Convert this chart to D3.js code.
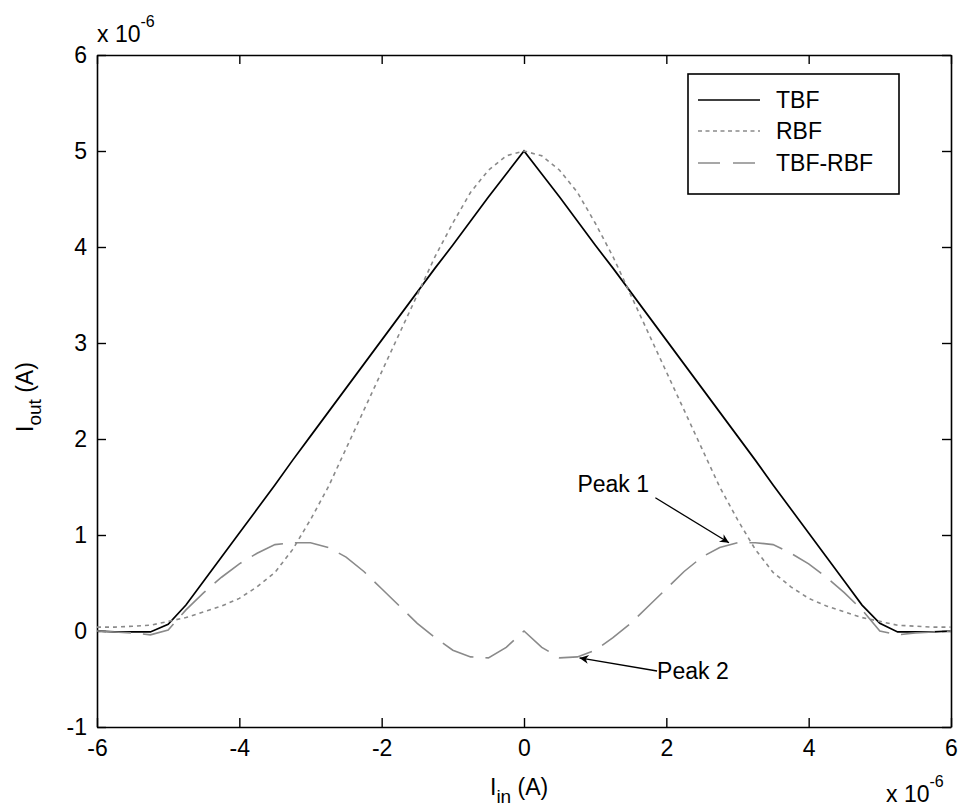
<!DOCTYPE html>
<html>
<head>
<meta charset="utf-8">
<script src="https://cdn.jsdelivr.net/npm/d3@7"></script>
<style>
  html, body { margin: 0; padding: 0; background: #fff; }
  svg text { font-family: "Liberation Sans", Arial, sans-serif; fill: #000; }
</style>
</head>
<body>
<svg id="chart" width="959" height="808"></svg>
<script>
// Input current (units of 1e-6 A)
const iin = [-6, -5.75, -5.5, -5.25, -5, -4.75, -4.5, -4.25, -4, -3.75, -3.5, -3.25, -3,
  -2.75, -2.5, -2.25, -2, -1.75, -1.5, -1.25, -1, -0.75, -0.5, -0.25, 0,
  0.25, 0.5, 0.75, 1, 1.25, 1.5, 1.75, 2, 2.25, 2.5, 2.75, 3, 3.25, 3.5, 3.75,
  4, 4.25, 4.5, 4.75, 5, 5.25, 5.5, 5.75, 6];

// Triangular basis function output
const tbf = [0, -0.01, -0.01, -0.01, 0.07, 0.27, 0.52, 0.77, 1.02, 1.27, 1.52, 1.78, 2.03,
  2.28, 2.53, 2.78, 3.03, 3.28, 3.53, 3.78, 4.02, 4.27, 4.52, 4.76, 5.0,
  4.76, 4.52, 4.27, 4.02, 3.78, 3.53, 3.28, 3.03, 2.78, 2.53, 2.28, 2.03, 1.78, 1.52, 1.27,
  1.02, 0.77, 0.52, 0.27, 0.08, -0.01, -0.01, -0.01, 0];

// Radial basis function output
const rbf = [0.04, 0.04, 0.05, 0.06, 0.10, 0.14, 0.20, 0.26, 0.34, 0.46, 0.61, 0.85, 1.16,
  1.50, 1.90, 2.30, 2.70, 3.10, 3.50, 3.90, 4.25, 4.57, 4.80, 4.95, 5.0,
  4.95, 4.80, 4.57, 4.25, 3.90, 3.50, 3.10, 2.70, 2.30, 1.90, 1.50, 1.16, 0.85, 0.61, 0.46,
  0.34, 0.26, 0.20, 0.14, 0.10, 0.06, 0.05, 0.04, 0.04];

// Difference TBF - RBF
const diff = [0, -0.01, -0.02, -0.04, 0.01, 0.22, 0.40, 0.56, 0.70, 0.81, 0.90, 0.92, 0.92,
  0.87, 0.77, 0.62, 0.44, 0.26, 0.08, -0.07, -0.20, -0.27, -0.28, -0.17, 0.0,
  -0.17, -0.28, -0.27, -0.20, -0.07, 0.08, 0.26, 0.44, 0.62, 0.77, 0.87, 0.92, 0.92, 0.90, 0.81,
  0.70, 0.56, 0.40, 0.22, 0.0, -0.04, -0.02, -0.01, 0];

const seriesNames = ["TBF", "RBF", "TBF-RBF"];
const xTicks = [-6, -4, -2, 0, 2, 4, 6];
const yTicks = [-1, 0, 1, 2, 3, 4, 5, 6];

// Annotations: label, arrow tip (data units), label anchor (data units)
const notes = [
  { label: "Peak 1", tip: [2.88, 0.92], at: [0.75, 1.45] },
  { label: "Peak 2", tip: [0.78, -0.28], at: [1.87, -0.5] }
];

const margin = { left: 97, top: 55, right: 8, bottom: 81 };
const W = 959, H = 808;
const pw = W - margin.left - margin.right;   // 854
const ph = H - margin.top - margin.bottom;   // 672

const svg = d3.select("#chart");
const defs = svg.append("defs");
defs.append("clipPath").attr("id", "plotclip")
  .append("rect").attr("width", pw).attr("height", ph);
defs.append("marker").attr("id", "arrowhead")
  .attr("viewBox", "0 0 10 10").attr("refX", 10).attr("refY", 5)
  .attr("markerWidth", 22).attr("markerHeight", 9).attr("markerUnits", "userSpaceOnUse")
  .attr("orient", "auto")
  .append("path").attr("d", "M0,0 L10,5 L0,10 L3,5 Z").attr("fill", "#000");

const g = svg.append("g").attr("transform", `translate(${margin.left},${margin.top})`);

const x = d3.scaleLinear().domain([-6, 6]).range([0, pw]);
const y = d3.scaleLinear().domain([-1, 6]).range([ph, 0]);

const fontSize = 23;
const subSize = 19;
const plainNum = d => String(d);

// Axes with inward ticks on all four sides
const tickLen = 9;
const axB = g.append("g").attr("transform", `translate(0,${ph})`)
  .call(d3.axisBottom(x).tickValues(xTicks).tickFormat(plainNum)
    .tickSizeInner(-tickLen).tickSizeOuter(0).tickPadding(13));
const axT = g.append("g")
  .call(d3.axisTop(x).tickValues(xTicks).tickSizeInner(-tickLen).tickSizeOuter(0).tickFormat(""));
const axL = g.append("g")
  .call(d3.axisLeft(y).tickValues(yTicks).tickFormat(plainNum)
    .tickSizeInner(-tickLen).tickSizeOuter(0).tickPadding(10));
const axR = g.append("g").attr("transform", `translate(${pw},0)`)
  .call(d3.axisRight(y).tickValues(yTicks).tickSizeInner(-tickLen).tickSizeOuter(0).tickFormat(""));

[axB, axT, axL, axR].forEach(a => {
  a.select(".domain").attr("stroke", "#000").attr("stroke-width", 1.6);
  a.selectAll(".tick line").attr("stroke", "#000").attr("stroke-width", 1.4);
  a.selectAll(".tick text").attr("font-size", fontSize)
    .attr("font-family", "Liberation Sans, Arial, sans-serif").attr("fill", "#000");
});
axB.selectAll(".tick text").attr("dy", "0.71em");

// Curves
const lineGen = vals => d3.line()
  .x((d, i) => x(iin[i]))
  .y(d => y(d))(vals);

const plot = g.append("g").attr("clip-path", "url(#plotclip)");
const styles = [
  { vals: tbf, color: "#000", width: 1.7, dash: null },
  { vals: rbf, color: "#8a8a8a", width: 1.6, dash: "4,4" },
  { vals: diff, color: "#8a8a8a", width: 1.6, dash: "34,12" }
];
styles.forEach(s => {
  plot.append("path")
    .attr("d", lineGen(s.vals))
    .attr("fill", "none")
    .attr("stroke", s.color)
    .attr("stroke-width", s.width)
    .attr("stroke-dasharray", s.dash);
});

// Legend
const lg = g.append("g").attr("transform", `translate(${688 - margin.left},${74 - margin.top})`);
lg.append("rect").attr("width", 211).attr("height", 120)
  .attr("fill", "#fff").attr("stroke", "#000").attr("stroke-width", 1.6);
const rowY = [26, 57, 89];
styles.forEach((s, i) => {
  lg.append("line").attr("x1", 10).attr("x2", 72).attr("y1", rowY[i]).attr("y2", rowY[i])
    .attr("stroke", s.color).attr("stroke-width", s.width)
    .attr("stroke-dasharray", s.dash ? (i === 2 ? "22,13" : "4,3.5") : null);
  lg.append("text").attr("x", 88).attr("y", rowY[i]).attr("dy", "0.35em")
    .attr("font-size", fontSize).text(seriesNames[i]);
});

// Annotations
notes.forEach(n => {
  g.append("text").attr("x", x(n.at[0])).attr("y", y(n.at[1]))
    .attr("font-size", fontSize).text(n.label);
});
// Peak 1 arrow from below-right of label to the plateau
g.append("line")
  .attr("x1", x(notes[0].at[0]) + 78).attr("y1", y(notes[0].at[1]) + 6)
  .attr("x2", x(notes[0].tip[0])).attr("y2", y(notes[0].tip[1]))
  .attr("stroke", "#000").attr("stroke-width", 1.3).attr("marker-end", "url(#arrowhead)");
// Peak 2 arrow from left of label to the trough
g.append("line")
  .attr("x1", x(notes[1].at[0])).attr("y1", y(notes[1].at[1]) - 8)
  .attr("x2", x(notes[1].tip[0])).attr("y2", y(notes[1].tip[1]))
  .attr("stroke", "#000").attr("stroke-width", 1.3).attr("marker-end", "url(#arrowhead)");

// Axis labels
const xl = svg.append("text").attr("x", 490).attr("y", 795).attr("font-size", fontSize);
xl.append("tspan").text("I");
xl.append("tspan").attr("font-size", subSize).attr("dy", 8).text("in");
xl.append("tspan").attr("dy", -8).text(" (A)");

const yl = svg.append("text")
  .attr("transform", "translate(33,432) rotate(-90)")
  .attr("font-size", fontSize);
yl.append("tspan").text("I");
yl.append("tspan").attr("font-size", subSize).attr("dy", 8).text("out");
yl.append("tspan").attr("dy", -8).text(" (A)");

// Exponent multipliers
const e1 = svg.append("text").attr("x", 97).attr("y", 42).attr("font-size", fontSize);
e1.append("tspan").text("x 10");
e1.append("tspan").attr("font-size", 16).attr("dy", -15).text("-6");

const e2 = svg.append("text").attr("x", 886).attr("y", 802).attr("font-size", fontSize);
e2.append("tspan").text("x 10");
e2.append("tspan").attr("font-size", 16).attr("dy", -15).text("-6");
</script>
</body>
</html>
